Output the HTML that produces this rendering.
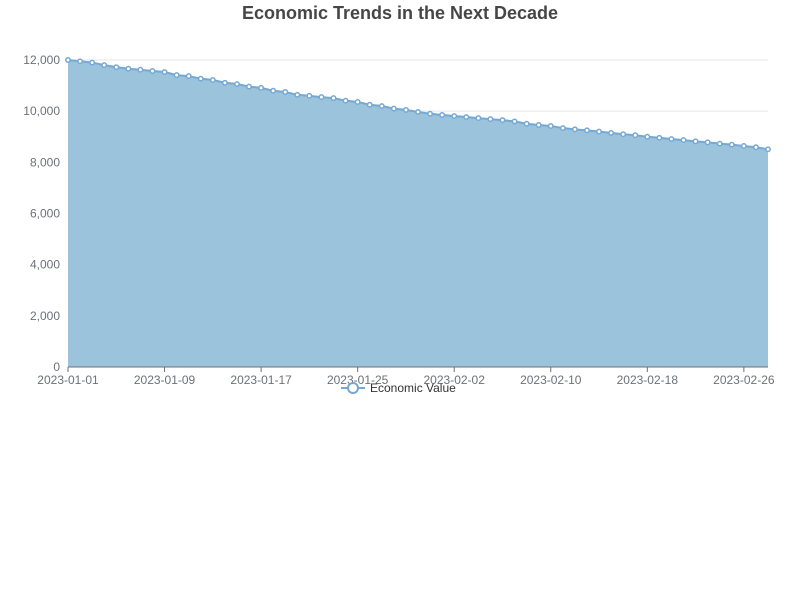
<!DOCTYPE html>
<html><head><meta charset="utf-8"><style>
body{margin:0;background:#fff;font-family:"Liberation Sans",sans-serif}
</style></head><body>
<svg id="c" width="800" height="600" xmlns="http://www.w3.org/2000/svg">
<text x="400" y="19" text-anchor="middle" font-size="18" font-weight="bold" fill="#464646">Economic Trends in the Next Decade</text>
<g id="grid"></g><g id="area"></g><g id="axes"></g>
<g>
<line x1="341" y1="388" x2="365" y2="388" stroke="#75a8d3" stroke-width="2"/>
<circle cx="353" cy="388" r="5" fill="#fff" stroke="#75a8d3" stroke-width="2"/>
<text x="370" y="392" font-size="12" fill="#333">Economic Value</text>
</g>
</svg>
<script>
const values=[12000,11950,11900,11800,11720,11660,11620,11570,11530,11410,11370,11270,11220,11110,11060,10960,10910,10800,10750,10640,10600,10550,10510,10410,10360,10250,10200,10100,10050,9970,9900,9850,9810,9770,9730,9690,9650,9600,9510,9460,9420,9340,9290,9250,9200,9150,9100,9060,9000,8960,8910,8870,8820,8780,8730,8690,8640,8590,8510];
const yTicks=[0,2000,4000,6000,8000,10000,12000];
const startDate=new Date(Date.UTC(2023,0,1));
const NS="http://www.w3.org/2000/svg";
const L=68,R=768,T=60,B=367;
const x=i=>L+i*(R-L)/(values.length-1);
const y=v=>B-v/12000*(B-T);
function mk(t,a,p){const e=document.createElementNS(NS,t);for(const k in a)e.setAttribute(k,a[k]);p.appendChild(e);return e;}
const grid=document.getElementById('grid'),area=document.getElementById('area'),axes=document.getElementById('axes');
yTicks.forEach(v=>{
 const l=mk('line',{x1:L,x2:R,y1:y(v),y2:y(v),stroke:'#e0e6f1'},grid);
 
 
 const t=mk('text',{x:L-8,y:y(v)+4,'text-anchor':'end','font-size':12,fill:'#6e7079'},axes);
 t.textContent=v.toLocaleString('en-US');
 
 
});
let d='M'+x(0)+','+B;values.forEach((v,i)=>d+=' L'+x(i)+','+y(v));d+=' L'+x(values.length-1)+','+B+'Z';
const a=mk('path',{d:d,fill:'#9bc3dc'},area);


const ln=mk('polyline',{points:values.map((v,i)=>x(i)+','+y(v)).join(' '),fill:'none',stroke:'#75a8d3','stroke-width':2},area);


values.forEach((v,i)=>{
 const c=mk('circle',{cx:x(i),cy:y(v),r:2.2,fill:'#fff',stroke:'#75a8d3','stroke-width':1.5},area);
 
 
});
const ax=mk('line',{x1:L,x2:R,y1:B,y2:B,stroke:'#6e7079'},axes);


for(let i=0;i<values.length;i+=8){
 const tk=mk('line',{x1:x(i),x2:x(i),y1:B,y2:B+5,stroke:'#6e7079'},axes);
 
 
 const dt=new Date(startDate.getTime()+i*86400000);
 const t=mk('text',{x:x(i),y:B+17,'text-anchor':'middle','font-size':12,fill:'#6e7079'},axes);
 t.textContent=dt.toISOString().slice(0,10);
 
 
}
</script>
</body></html>
